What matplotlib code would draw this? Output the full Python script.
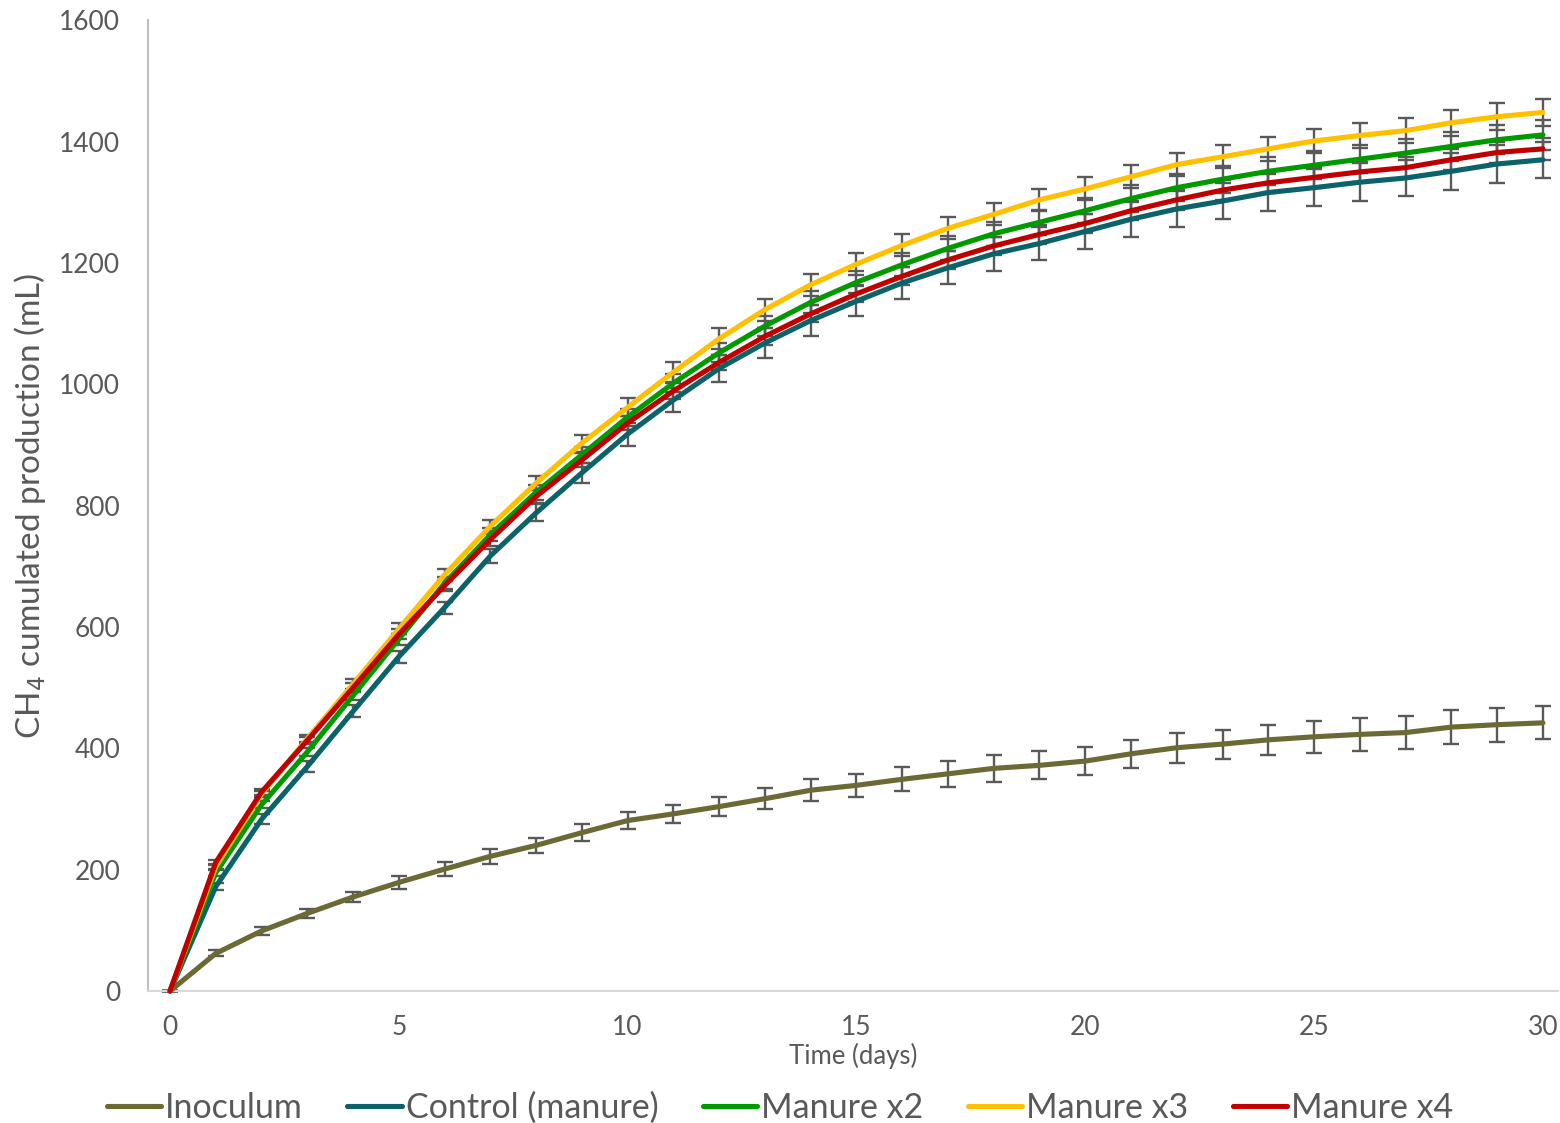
import matplotlib
matplotlib.use("Agg")
import matplotlib.pyplot as plt
import numpy as np

plt.rcParams['font.family'] = ['Lato', 'DejaVu Sans']

days = list(range(31))

inoculum = [0, 62, 99, 128, 155, 179, 201, 222, 240, 261, 281, 292, 304, 317, 331,
            339, 349, 358, 367, 372, 379, 391, 401, 407, 414, 419, 423, 426, 435, 439, 442]
inoculum_err = [0, 5, 6, 7, 9, 11, 11, 12, 13, 14, 14, 15, 16, 17, 18,
                19, 20, 21, 22, 23, 23, 23, 25, 24, 25, 26, 27, 27, 28, 28, 27]

control = [0, 172, 283, 370, 461, 551, 632, 717, 788, 854, 918, 974, 1026, 1068, 1105,
           1137, 1167, 1192, 1215, 1232, 1252, 1272, 1289, 1302, 1316, 1324, 1333, 1340, 1351, 1363, 1370]
control_err = [0, 6, 8, 9, 10, 10, 10, 12, 14, 17, 19, 20, 22, 24, 25,
               25, 26, 27, 28, 28, 29, 29, 30, 30, 30, 31, 31, 30, 30, 31, 30]

manure_x2 = [0, 195, 307, 394, 487, 580, 672, 752, 822, 884, 946, 1002, 1052, 1096, 1135,
             1168, 1197, 1224, 1248, 1267, 1286, 1306, 1324, 1338, 1351, 1361, 1371, 1381, 1392, 1403, 1411]
manure_x2_err = [0, 5, 6, 7, 8, 9, 10, 11, 12, 13, 14, 15, 16, 17, 18,
                 18, 19, 20, 20, 21, 21, 22, 22, 22, 23, 23, 23, 24, 24, 24, 25]

manure_x3 = [0, 205, 325, 416, 506, 597, 686, 766, 837, 903, 962, 1020, 1075, 1123, 1164,
             1198, 1229, 1257, 1280, 1304, 1322, 1342, 1362, 1375, 1388, 1401, 1410, 1418, 1431, 1441, 1448]
manure_x3_err = [0, 4, 5, 6, 8, 9, 10, 11, 12, 14, 15, 16, 17, 18, 18,
                 18, 18, 18, 18, 18, 19, 19, 19, 19, 20, 20, 20, 21, 21, 22, 22]

manure_x4 = [0, 212, 328, 413, 500, 588, 668, 744, 815, 875, 936, 989, 1036, 1079, 1116,
             1149, 1178, 1205, 1228, 1247, 1265, 1286, 1304, 1320, 1332, 1341, 1350, 1357, 1370, 1382, 1388]
manure_x4_err = [0, 4, 5, 6, 7, 8, 9, 10, 11, 12, 12, 13, 13, 14, 14,
                 14, 15, 15, 15, 15, 16, 16, 16, 16, 16, 17, 17, 17, 17, 18, 18]

series_names = ["Inoculum", "Control (manure)", "Manure x2", "Manure x3", "Manure x4"]
series_values = [inoculum, control, manure_x2, manure_x3, manure_x4]
series_errors = [inoculum_err, control_err, manure_x2_err, manure_x3_err, manure_x4_err]
series_colors = ["#6B6A35", "#0B6369", "#009A00", "#FFC000", "#C00000"]

x_ticks = [0, 5, 10, 15, 20, 25, 30]
y_ticks = [0, 200, 400, 600, 800, 1000, 1200, 1400, 1600]

fig = plt.figure(figsize=(15.6, 11.23), dpi=100)
ax = fig.add_axes([0.0949, 0.1175, 0.9038, 0.8645])

text_color = "#595959"
handles = []
for name, vals, errs, col in zip(series_names, series_values, series_errors, series_colors):
    ax.errorbar(days, vals, yerr=errs, fmt='none', ecolor="#595959", elinewidth=1.7,
                capsize=5.5, capthick=1.7, zorder=2, clip_on=False)
for name, vals, errs, col in zip(series_names, series_values, series_errors, series_colors):
    ln, = ax.plot(days, vals, color=col, lw=3.7, solid_capstyle='round',
                  solid_joinstyle='round', zorder=3, clip_on=False, label=name)
    handles.append(ln)

ax.set_xlim(-0.48, 30.33)
ax.set_ylim(0, 1600)
ax.set_xticks(x_ticks)
ax.set_yticks(y_ticks)
ax.tick_params(axis='both', length=0, labelsize=19, colors=text_color)
ax.tick_params(axis='x', pad=17)
ax.tick_params(axis='y', pad=20)

for s in ['top', 'right']:
    ax.spines[s].set_visible(False)
ax.spines['left'].set_color('#BFBFBF')
ax.spines['left'].set_linewidth(1.5)
ax.spines['bottom'].set_color('#D9D9D9')
ax.spines['bottom'].set_linewidth(1.5)

ax.set_xlabel("Time (days)", fontsize=18.5, color=text_color, labelpad=2)
ax.set_ylabel("CH$_4$ cumulated production (mL)", fontsize=24, color=text_color, labelpad=8)

fig.legend(handles=handles, labels=series_names, loc='lower center', ncol=5,
           bbox_to_anchor=(0.5, -0.007), frameon=False, fontsize=24.5,
           handlelength=1.6, handletextpad=0.12, columnspacing=1.3,
           borderaxespad=0.1, borderpad=0.1, labelcolor=text_color)

fig.savefig("out.png", dpi=100)
